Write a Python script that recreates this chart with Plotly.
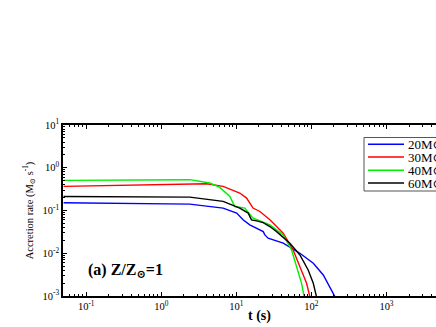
import plotly.graph_objects as go

# ---- data (t in s, accretion rate in Msun/s) ----
t_20 = [0.05, 1.0, 2.4, 6.67, 10.1, 12.3, 14.4, 15.1, 22.8, 24.0, 26.5, 42.1, 70.3, 106, 144, 186, 206]
r_20 = [0.152, 0.146, 0.141, 0.114, 0.087, 0.0605, 0.0506, 0.0462, 0.0321, 0.0269, 0.0225, 0.0172, 0.0100, 0.00582, 0.00310, 0.00137, 0.00096]

t_30 = [0.05, 1.0, 2.4, 4.0, 6.67, 11.1, 13.7, 15.1, 16.7, 20.6, 28.0, 42.1, 57.2, 70.3, 86.3, 95.5]
r_30 = [0.366, 0.394, 0.417, 0.423, 0.366, 0.256, 0.195, 0.149, 0.114, 0.0948, 0.0605, 0.0295, 0.0119, 0.00485, 0.00198, 0.00096]

t_40 = [0.05, 1.0, 1.94, 2.4, 4.43, 6.03, 8.2, 9.55, 13.0, 16.7, 28.0, 42.1, 54.5, 63.5, 74.0, 80.1]
r_40 = [0.506, 0.517, 0.52, 0.526, 0.44, 0.347, 0.213, 0.124, 0.114, 0.0663, 0.0462, 0.0269, 0.0119, 0.00485, 0.00198, 0.00096]

t_60 = [0.05, 1.0, 2.4, 6.67, 11.1, 14.4, 15.9, 18.6, 22.8, 28.0, 34.4, 51.7, 70.3, 90.6, 106, 117]
r_60 = [0.213, 0.206, 0.206, 0.163, 0.114, 0.087, 0.0605, 0.0573, 0.0523, 0.0421, 0.0321, 0.0172, 0.00912, 0.00406, 0.00198, 0.00096]

labels = ["20M⊙", "30M⊙", "40M⊙", "60M⊙"]
colors = ["#0000ff", "#ff0000", "#00ee00", "#000000"]

x_tickvals = [0.1, 1, 10, 100, 1000]
x_ticktext = ["10<sup>-1</sup>", "10<sup>0</sup>", "10<sup>1</sup>", "10<sup>2</sup>", "10<sup>3</sup>"]
y_tickvals = [0.001, 0.01, 0.1, 1, 10]
y_ticktext = ["10<sup>-3</sup>", "10<sup>-2</sup>", "10<sup>-1</sup>", "10<sup>0</sup>", "10<sup>1</sup>"]

FONT = "Liberation Serif, DejaVu Serif, serif"
W, H = 436, 327
ML, MR, MT, MB = 63, 0, 125, 31

fig = go.Figure()
for name, t, r, c in zip(labels, [t_20, t_30, t_40, t_60], [r_20, r_30, r_40, r_60], colors):
    fig.add_trace(go.Scatter(x=t, y=r, mode="lines", name=name, showlegend=False,
                             line=dict(color=c, width=1.4)))

axis_common = dict(
    type="log", showgrid=False, zeroline=False,
    showline=True, linecolor="black", linewidth=1.5,
    ticks="inside", ticklen=4, tickwidth=1, tickcolor="black",
    tickfont=dict(family=FONT, size=10.5, color="black"),
    minor=dict(ticks="inside", ticklen=2, tickcolor="black", showgrid=False, dtick="D1"),
)

fig.update_xaxes(**axis_common, range=[-1.309, 3.66], mirror="ticks",
                 tickmode="array", tickvals=x_tickvals, ticktext=x_ticktext)
fig.update_yaxes(**axis_common, range=[-3, 1], mirror=False,
                 tickmode="array", tickvals=y_tickvals, ticktext=y_ticktext,
                 title=dict(text="Accretion rate (M<sub>⊙</sub> s<sup>-1</sup>)",
                            font=dict(family=FONT, size=10.5, color="black"), standoff=7))

pw = W - ML - MR
ph = H - MT - MB
def px(x):
    return (x - ML) / pw
def py(y):
    return (H - MB - y) / ph

fig.add_annotation(xref="paper", yref="paper", x=px(259), y=py(316), yanchor="middle",
                   text="<b>t (s)</b>", showarrow=False,
                   font=dict(family=FONT, size=14, color="black"))
fig.add_annotation(xref="paper", yref="paper", x=px(86), y=py(270), xanchor="left", yanchor="middle",
                   text="<b>(a) Z/Z<sub>⊙</sub>=1</b>", showarrow=False,
                   font=dict(family=FONT, size=16, color="black"))

# legend box (drawn manually to match the compact row spacing)
fig.add_shape(type="rect", xref="paper", yref="paper",
              x0=px(364), x1=px(440), y0=py(191), y1=py(137.5),
              line=dict(color="#555555", width=1), fillcolor="white", layer="above")
row_y = [144.3, 157, 170.3, 183]
for lab, c, yy in zip(labels, colors, row_y):
    fig.add_shape(type="line", xref="paper", yref="paper",
                  x0=px(368), x1=px(404), y0=py(yy), y1=py(yy),
                  line=dict(color=c, width=1.4), layer="above")
    fig.add_annotation(xref="paper", yref="paper", x=px(406), y=py(yy),
                       xanchor="left", yanchor="middle", text=lab, showarrow=False,
                       font=dict(family=FONT, size=13, color="black"))

fig.update_layout(
    width=W, height=H,
    margin=dict(l=ML, r=MR, t=MT, b=MB, autoexpand=False),
    paper_bgcolor="white", plot_bgcolor="white",
    showlegend=False,
)

fig.write_html("out.html", config={"displayModeBar": False},
               post_script="document.body.style.margin='0px';")
